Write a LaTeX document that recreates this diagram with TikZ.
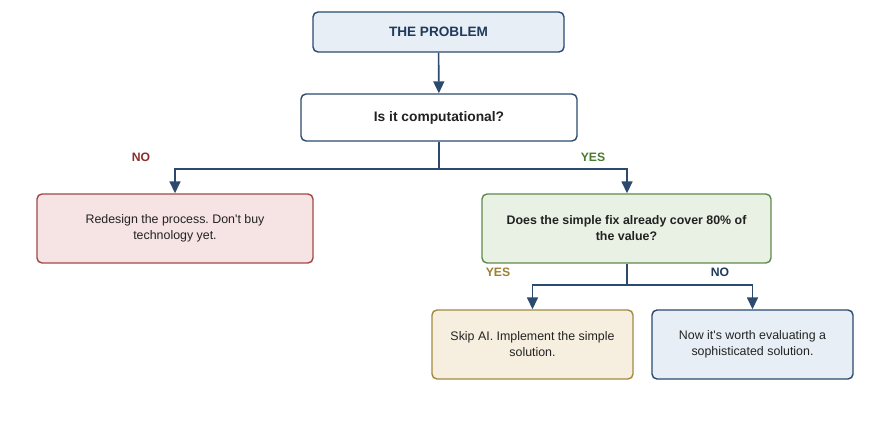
\documentclass[tikz,border=0pt]{standalone}
\usepackage{fontspec}
\setmainfont{Liberation Sans}
\usetikzlibrary{arrows.meta}
\frenchspacing
\definecolor{navy}{HTML}{2B4A6E}
\definecolor{navytxt}{HTML}{1F3A5C}
\definecolor{bluefill}{HTML}{E8EEF6}
\definecolor{redfill}{HTML}{F6E3E3}
\definecolor{redline}{HTML}{A04848}
\definecolor{redtxt}{HTML}{8B2E2E}
\definecolor{greenfill}{HTML}{E9F0E4}
\definecolor{greenline}{HTML}{5E8A4C}
\definecolor{greentxt}{HTML}{4A7A30}
\definecolor{goldfill}{HTML}{F6EFDF}
\definecolor{goldline}{HTML}{A08A3E}
\definecolor{goldtxt}{HTML}{A07F2E}
\definecolor{bodytxt}{HTML}{222222}
\tikzset{
  box/.style={draw, line width=1.4pt, rounded corners=5pt, align=center, inner sep=0pt, text=bodytxt},
  conn/.style={draw=navy, line width=1.6pt},
  arr/.style={conn, -{Triangle[length=12pt,width=11pt]}},
  lbl/.style={font=\fontsize{12.2}{14}\selectfont\bfseries},
  body/.style={font=\fontsize{12.4}{16}\selectfont\frenchspacing}
}
\begin{document}
\begin{tikzpicture}[x=1pt,y=-1pt]
\useasboundingbox (0,0) rectangle (878,438);
\node[box, draw=navy, fill=bluefill, minimum width=251pt, minimum height=40pt, text=navytxt, font=\fontsize{13.6}{16}\selectfont\bfseries] (prob) at (438.5,32) {THE PROBLEM};
\node[box, draw=navy, fill=white, minimum width=276pt, minimum height=47pt, font=\fontsize{13.8}{16}\selectfont\bfseries] (comp) at (439,117.5) {Is it computational?};
\node[box, draw=redline, fill=redfill, minimum width=276pt, minimum height=69pt, body] (redes) at (175,228.5) {Redesign the process. Don\textquotesingle t buy\\technology yet.};
\node[box, draw=greenline, fill=greenfill, minimum width=289pt, minimum height=69pt, font=\fontsize{12.4}{16}\selectfont\bfseries] (simple) at (626.5,228.5) {Does the simple fix already cover 80\% of\\the value?};
\node[box, draw=goldline, fill=goldfill, minimum width=201pt, minimum height=69pt, body] (skip) at (532.5,344.5) {Skip AI. Implement the simple\\solution.};
\node[box, draw=navy, fill=bluefill, minimum width=201pt, minimum height=69pt, body] (now) at (752.5,344.5) {Now it\textquotesingle s worth evaluating a\\sophisticated solution.};
\coordinate (j1) at (439,169);
\coordinate (j2) at (627,285);
\draw[arr] (prob) -- (comp);
\draw[conn] (comp.south) -- (j1);
\draw[arr] (j1) -| (redes.north);
\draw[arr] (j1) -| ([xshift=0.5pt]simple.north);
\draw[conn] ([xshift=0.5pt]simple.south) -- (j2);
\draw[arr] (j2) -| (skip.north);
\draw[arr] (j2) -| (now.north);
\node[lbl, text=redtxt] (lno) at (141,157) {NO};
\node[lbl, text=greentxt] (lyes) at (593,157) {YES};
\node[lbl, text=goldtxt] (lyes2) at (498,272) {YES};
\node[lbl, text=navytxt] (lno2) at (720,272) {NO};
\end{tikzpicture}
\end{document}
